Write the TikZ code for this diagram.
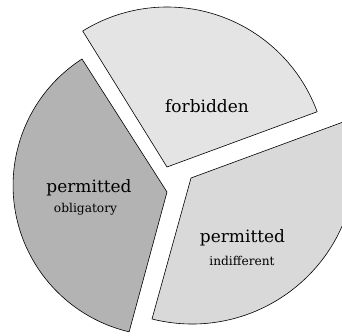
\documentclass[tikz,border=0pt]{standalone}
\usepackage{fontspec}
\setmainfont{DejaVu Serif}
\definecolor{forbcol}{RGB}{228,228,228}
\definecolor{obligcol}{RGB}{179,179,179}
\definecolor{indiffcol}{RGB}{217,217,217}
\begin{document}
\begin{tikzpicture}[x=1pt,y=1pt,
  sector/.style={draw=black, line width=0.6pt, line join=miter},
  biglabel/.style={font=\fontsize{17}{20}\selectfont, inner sep=0pt},
  smalllabel/.style={font=\fontsize{12.2}{14}\selectfont, inner sep=0pt}]
\useasboundingbox (0,0) rectangle (342,336);
\clip (0,0) rectangle (342,336);
% forbidden
\path[sector, fill=forbcol] (167,169) -- ++(20.2:160) arc[start angle=20.2, end angle=121.8, radius=160] -- cycle;
% obligatory
\path[sector, fill=obligcol] (167,144) -- (82,277) arc[start angle=122.8, end angle=256.8, radius=150.4] -- cycle;
% indifferent
\path[sector, fill=indiffcol] (191,158) -- (152,17) arc[start angle=-104.16, end angle=14.45, radius=163.9] -- cycle;
\node[biglabel] (forb) at (207,230) {forbidden};
\node[biglabel] (perm1) at (89,148) {permitted};
\node[smalllabel] (oblig) at (85.5,127) {obligatory};
\node[biglabel] (perm2) at (242.5,98) {permitted};
\node[smalllabel] (indiff) at (242,75) {indifferent};
\end{tikzpicture}
\end{document}
